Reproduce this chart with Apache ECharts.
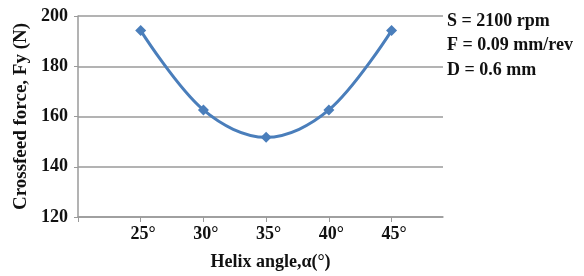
<!DOCTYPE html>
<html>
<head>
<meta charset="utf-8">
<script src="https://cdn.jsdelivr.net/npm/echarts@6/dist/echarts.min.js"></script>
<style>
html,body{margin:0;padding:0;background:#fff;}
#chart{width:584px;height:276px;}
</style>
</head>
<body>
<div id="chart"></div>
<script>
// helix angle vs crossfeed force
var angles = [25, 30, 35, 40, 45];
var forces = [194.2, 162.6, 151.7, 162.6, 194.2];
var yTicks = [120, 140, 160, 180, 200];
var notes = ['S = 2100 rpm', 'F = 0.09 mm/rev', 'D = 0.6 mm'];

var font = '"Liberation Serif", "Times New Roman", serif';
var myChart = echarts.init(document.getElementById('chart'));
var option = {
    animation: false,
    grid: {
        left: 78,
        right: 141,
        top: 16,
        bottom: 52
    },
    xAxis: {
        type: 'value',
        min: 20,
        max: 49.1,
        interval: 5,
        name: 'Helix angle,α(°)',
        nameLocation: 'middle',
        nameGap: 36,
        nameTextStyle: { fontFamily: font, fontWeight: 'bold', fontSize: 18, color: '#111', padding: [0, 0, 0, 20] },
        axisLine: { lineStyle: { color: '#9a9a9a', width: 1.5 } },
        axisTick: { customValues: [20].concat(angles), length: 5, lineStyle: { color: '#9a9a9a' } },
        axisLabel: {
            customValues: angles,
            formatter: function (v) { return v + '°'; },
            fontFamily: font, fontWeight: 'bold', fontSize: 18, color: '#111', margin: 8,
            padding: [0, 0, 0, 5]
        },
        splitLine: { show: false }
    },
    yAxis: {
        type: 'value',
        min: yTicks[0],
        max: yTicks[yTicks.length - 1],
        interval: 20,
        name: 'Crossfeed force, Fy (N)',
        nameLocation: 'middle',
        nameGap: 45,
        nameTextStyle: { fontFamily: font, fontWeight: 'bold', fontSize: 19, color: '#111' },
        axisLine: { show: true, lineStyle: { color: '#9a9a9a', width: 1.5 } },
        axisTick: { show: true, length: 4, lineStyle: { color: '#9a9a9a' } },
        axisLabel: { fontFamily: font, fontWeight: 'bold', fontSize: 18, color: '#111', margin: 10 },
        splitLine: { lineStyle: { color: '#9a9a9a', width: 1.5 } }
    },
    series: [{
        type: 'line',
        smooth: 0.35,
        data: angles.map(function (a, i) { return [a, forces[i]]; }),
        symbol: 'diamond',
        symbolSize: 11,
        lineStyle: { color: '#4a7ebb', width: 3 },
        itemStyle: { color: '#4a7ebb' }
    }],
    graphic: notes.map(function (t, i) {
        return {
            type: 'text',
            left: 447,
            top: 12 + i * 24.5,
            style: { text: t, font: 'bold 18px ' + font, fill: '#111' }
        };
    })
};
myChart.setOption(option);
</script>
</body>
</html>
